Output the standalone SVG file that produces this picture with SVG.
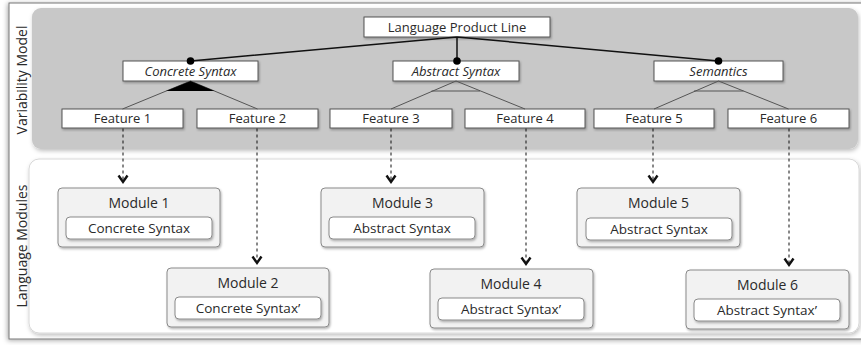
<svg xmlns="http://www.w3.org/2000/svg" width="861" height="345" viewBox="0 0 861 345">
<style>
text{font-family:"Open Sans","Noto Sans","DejaVu Sans",sans-serif;fill:#2a2a2a;text-anchor:middle}
.t13{font-size:13px}
.t12{font-size:13.5px}
.it{font-style:italic}
.fbox{fill:#fff;stroke:#555;stroke-width:1}
.mod{fill:#f2f2f2;stroke:#8a8a8a;stroke-width:1}
.inner{fill:#fff;stroke:#8a8a8a;stroke-width:1}
.tree{stroke:#111;stroke-width:1.5;fill:none}
.grp{stroke:#555;stroke-width:1;fill:none}
.dash{stroke:#111;stroke-width:1;stroke-dasharray:3 3;fill:none}
</style>
<defs>
<filter id="sh" x="-10%" y="-10%" width="120%" height="130%">
<feDropShadow dx="1" dy="1.5" stdDeviation="1.2" flood-color="#000" flood-opacity="0.3"/>
</filter>
<filter id="sh2" x="-5%" y="-5%" width="110%" height="115%">
<feDropShadow dx="1" dy="2" stdDeviation="2" flood-color="#000" flood-opacity="0.25"/>
</filter>
<filter id="sh3" x="-5%" y="-5%" width="110%" height="115%">
<feDropShadow dx="-1" dy="1" stdDeviation="2.5" flood-color="#000" flood-opacity="0.35"/>
</filter>
<marker id="chev" markerUnits="userSpaceOnUse" markerWidth="12" markerHeight="12" orient="auto" refX="0" refY="0" overflow="visible">
<path d="M-6.5,-4.5 L0,0 L-6.5,4.5" fill="none" stroke="#111" stroke-width="2.4" stroke-linejoin="miter"/>
</marker>
</defs>

<g id="frame">
<rect x="9" y="3" width="860" height="336" fill="#fff" stroke="#777" stroke-width="1" filter="url(#sh3)"/>
</g>

<g id="variability-panel">
<rect x="32" y="8" width="826" height="141" rx="9" fill="#c8c8c8" filter="url(#sh2)"/>
<text transform="translate(27,80) rotate(-90)" style="font-size:14px">Variability Model</text>
</g>

<g id="modules-panel">
<rect x="29" y="159" width="830" height="174" rx="10" fill="#fff" stroke="#d8d8d8" stroke-width="1" filter="url(#sh2)"/>
<text transform="translate(27,246) rotate(-90)" style="font-size:14px">Language Modules</text>
</g>

<g id="lpl">
<rect class="fbox" x="364" y="17" width="186" height="20" filter="url(#sh)"/>
<text class="t13" x="457" y="31.5">Language Product Line</text>
</g>
<g id="concrete-syntax">
<rect class="fbox" x="123" y="61" width="135" height="20" filter="url(#sh)"/>
<text class="t13 it" x="190.5" y="75.5">Concrete Syntax</text>
</g>
<g id="abstract-syntax">
<rect class="fbox" x="393" y="61" width="126" height="20" filter="url(#sh)"/>
<text class="t13 it" x="456" y="75.5">Abstract Syntax</text>
</g>
<g id="semantics">
<rect class="fbox" x="654" y="61" width="129" height="20" filter="url(#sh)"/>
<text class="t13 it" x="718.5" y="75.5">Semantics</text>
</g>

<g id="feature1"><rect class="fbox" x="62" y="109" width="121" height="19" filter="url(#sh)"/><text class="t13" x="122.5" y="123">Feature 1</text></g>
<g id="feature2"><rect class="fbox" x="197" y="109" width="121" height="19" filter="url(#sh)"/><text class="t13" x="257.5" y="123">Feature 2</text></g>
<g id="feature3"><rect class="fbox" x="330" y="109" width="122" height="19" filter="url(#sh)"/><text class="t13" x="391" y="123">Feature 3</text></g>
<g id="feature4"><rect class="fbox" x="465" y="109" width="120" height="19" filter="url(#sh)"/><text class="t13" x="525" y="123">Feature 4</text></g>
<g id="feature5"><rect class="fbox" x="594" y="109" width="120" height="19" filter="url(#sh)"/><text class="t13" x="654" y="123">Feature 5</text></g>
<g id="feature6"><rect class="fbox" x="728" y="109" width="121" height="19" filter="url(#sh)"/><text class="t13" x="788.5" y="123">Feature 6</text></g>

<g id="module1">
<rect class="mod" x="58" y="188" width="162" height="59" rx="4" filter="url(#sh)"/>
<text class="t13" x="139" y="208" style="font-size:14px">Module 1</text>
<rect class="inner" x="66" y="217" width="146" height="22" rx="4" filter="url(#sh)"/>
<text class="t12" x="139" y="232.5">Concrete Syntax</text>
</g>
<g id="module2">
<rect class="mod" x="167" y="268" width="162" height="59" rx="4" filter="url(#sh)"/>
<text class="t13" x="248" y="288" style="font-size:14px">Module 2</text>
<rect class="inner" x="175" y="297" width="146" height="22" rx="4" filter="url(#sh)"/>
<text class="t12" x="248" y="312.5">Concrete Syntax’</text>
</g>
<g id="module3">
<rect class="mod" x="321" y="188" width="163" height="59" rx="4" filter="url(#sh)"/>
<text class="t13" x="402.5" y="208" style="font-size:14px">Module 3</text>
<rect class="inner" x="329" y="217" width="146" height="22" rx="4" filter="url(#sh)"/>
<text class="t12" x="402" y="232.5">Abstract Syntax</text>
</g>
<g id="module4">
<rect class="mod" x="430" y="269" width="163" height="59" rx="4" filter="url(#sh)"/>
<text class="t13" x="511" y="289" style="font-size:14px">Module 4</text>
<rect class="inner" x="438" y="298" width="146" height="22" rx="4" filter="url(#sh)"/>
<text class="t12" x="511" y="313.5">Abstract Syntax’</text>
</g>
<g id="module5">
<rect class="mod" x="577" y="188" width="163" height="59" rx="4" filter="url(#sh)"/>
<text class="t13" x="658.5" y="208" style="font-size:14px">Module 5</text>
<rect class="inner" x="586" y="218" width="146" height="22" rx="4" filter="url(#sh)"/>
<text class="t12" x="659" y="233.5">Abstract Syntax</text>
</g>
<g id="module6">
<rect class="mod" x="686" y="270" width="163" height="59" rx="4" filter="url(#sh)"/>
<text class="t13" x="767.5" y="290" style="font-size:14px">Module 6</text>
<rect class="inner" x="694" y="299" width="146" height="22" rx="4" filter="url(#sh)"/>
<text class="t12" x="767" y="314.5">Abstract Syntax’</text>
</g>

<g id="connectors">
<path class="tree" d="M457,37 L190.5,61 M457,37 L457,61 M457,37 L718.5,61"/>
<circle cx="190.5" cy="61" r="3.8" fill="#000"/>
<circle cx="457" cy="61" r="3.8" fill="#000"/>
<circle cx="718.5" cy="61" r="3.8" fill="#000"/>
<path class="grp" d="M190.5,81 L122.5,109 M190.5,81 L257.5,109"/>
<polygon points="190.5,81 166,91 214.5,91" fill="#000"/>
<path class="grp" d="M456,81 L391,109 M456,81 L525,109 M431.5,91 L480,91"/>
<path class="grp" d="M718.5,81 L654,109 M718.5,81 L788.5,109 M694,91 L743.5,91"/>
<path class="dash" d="M123,128.5 L123,182" marker-end="url(#chev)"/>
<path class="dash" d="M257,128.5 L257,263" marker-end="url(#chev)"/>
<path class="dash" d="M391,128.5 L391,182" marker-end="url(#chev)"/>
<path class="dash" d="M526,128.5 L526,264" marker-end="url(#chev)"/>
<path class="dash" d="M653,128.5 L653,182" marker-end="url(#chev)"/>
<path class="dash" d="M789,128.5 L789,265" marker-end="url(#chev)"/>
</g>
</svg>
